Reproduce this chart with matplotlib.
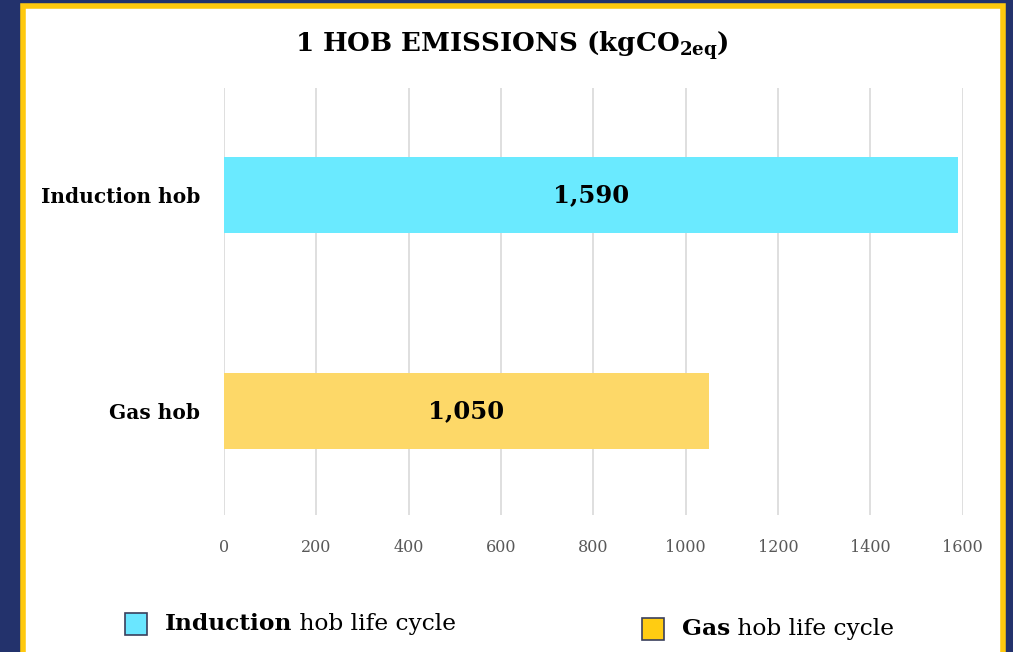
import matplotlib
matplotlib.use("Agg")
import matplotlib.pyplot as plt
import matplotlib.patches as patches

# data
categories = ["Gas hob", "Induction hob"]
values = [1050, 1590]
bar_labels = ["1,050", "1,590"]
bar_colors = ["#FDD868", "#6AEAFF"]
xticks = [0, 200, 400, 600, 800, 1000, 1200, 1400, 1600]
legend_bold = ["Induction", "Gas"]
legend_rest = " hob life cycle"
legend_colors = ["#6AE6FF", "#FFCC12"]

NAVY = "#23326C"
GOLD = "#FFC90E"

plt.rcParams["mathtext.fontset"] = "custom"
plt.rcParams["mathtext.bf"] = "DejaVu Serif:bold"
plt.rcParams["mathtext.rm"] = "DejaVu Serif:bold"

W, H = 1013, 652
fig = plt.figure(figsize=(W / 100, H / 100), dpi=100, facecolor=NAVY)

# white card with yellow border (left 20, right 1005, top 3)
card = patches.Rectangle((23 / W, -10 / H), (1002.5 - 23) / W, (H + 10 - 5.5) / H,
                         transform=fig.transFigure, facecolor="white",
                         edgecolor=GOLD, linewidth=4.0, zorder=-5)
fig.patches.append(card)

ax = fig.add_axes([224 / W, (H - 515) / H, 738.5 / W, 427 / H])
ax.set_facecolor("none")

ypos = list(range(len(categories)))
ax.barh(ypos, values, height=0.352, color=bar_colors, zorder=2)
for y, v, lab in zip(ypos, values, bar_labels):
    ax.text(v / 2, y, lab, ha="center", va="center", fontsize=17.5,
            fontweight="bold", family="DejaVu Serif", color="black", zorder=3)

ax.set_xlim(0, 1600)
ax.set_ylim(-0.48, 1.495)
ax.set_xticks(xticks)
ax.set_xticklabels([str(t) for t in xticks], family="DejaVu Serif",
                   fontsize=11.5, color="#595959")
ax.set_yticks(ypos)
ax.set_yticklabels(categories, family="DejaVu Serif", fontweight="bold",
                   fontsize=14.5, color="black")
ax.tick_params(axis="x", length=0, pad=17)
ax.tick_params(axis="y", length=0, pad=17)
ax.grid(axis="x", color="#D9D9D9", linewidth=1.2, zorder=0)
ax.set_axisbelow(True)
for s in ax.spines.values():
    s.set_visible(False)

fig.text(512 / W, 1 - 45 / H, r"1 HOB EMISSIONS (kgCO$_{\mathbf{2eq}}$)",
         ha="center", va="center", fontsize=18.8, fontweight="bold",
         family="DejaVu Serif", color="black")

# legend drawn as figure artists
leg_x = [125, 642]
leg_y = [624, 629]
for i in range(2):
    x0, yc = leg_x[i], leg_y[i]
    sq = patches.Rectangle((x0 / W, 1 - (yc + 11) / H), 22 / W, 22 / H,
                           transform=fig.transFigure, facecolor=legend_colors[i],
                           edgecolor="#3A3F5C", linewidth=1.2)
    fig.patches.append(sq)
    t = fig.text((x0 + 40) / W, 1 - yc / H, legend_bold[i], ha="left", va="center",
                 fontsize=16.8, fontweight="bold", family="DejaVu Serif", color="black")
    fig.canvas.draw()
    bb = t.get_window_extent()
    fig.text(bb.x1 / W, 1 - yc / H, legend_rest, ha="left", va="center",
             fontsize=16.8, family="DejaVu Serif", color="black")

fig.savefig("out.png", dpi=100, facecolor=NAVY)
